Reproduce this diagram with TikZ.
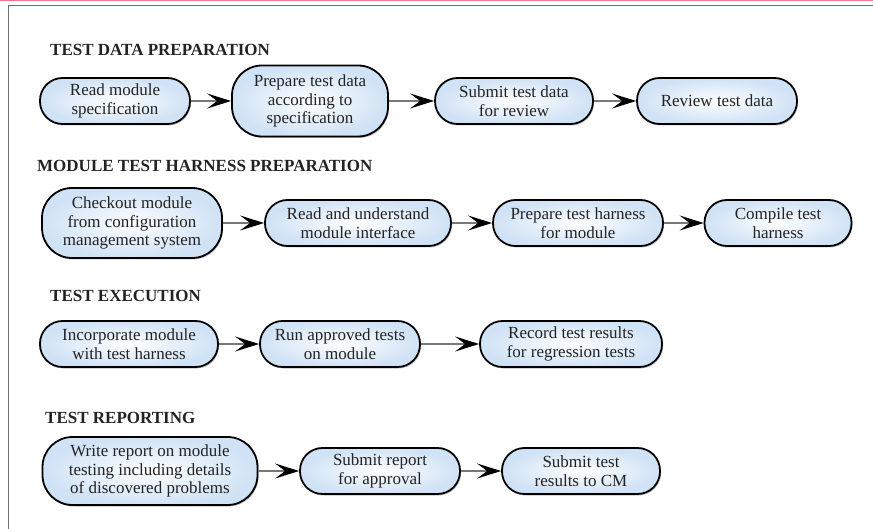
\documentclass[tikz,border=0pt]{standalone}
\usepackage{fontspec}
\setmainfont{LiberationSerif}[Extension=.ttf, UprightFont=*-Regular, BoldFont=*-Bold, ItalicFont=*-Italic, BoldItalicFont=*-BoldItalic]
\usetikzlibrary{arrows.meta,shadows}
\definecolor{boxedge}{RGB}{208,226,245}
\definecolor{boxcore}{RGB}{253,254,255}
\definecolor{linkgray}{RGB}{120,120,120}
\definecolor{framegray}{RGB}{110,110,110}
\definecolor{topband}{RGB}{240,120,140}
\definecolor{inktext}{RGB}{35,35,35}

\begin{document}
\begin{tikzpicture}[x=1pt,y=-1pt,
  stage/.style={font=\fontsize{17}{20}\selectfont\bfseries, text=inktext, anchor=base west, inner sep=0pt},
  proc/.style={draw=black, line width=1.8pt, inner sep=0pt, align=center, text=inktext,
     font=\fontsize{17}{18.5}\selectfont, inner color=boxcore, outer color=boxedge,
     drop shadow={shadow xshift=1pt, shadow yshift=-1.5pt, opacity=0.25, fill=black}},
  twoline/.style={proc, minimum height=46pt, rounded corners=22.5pt},
  threeline/.style={proc, minimum height=70pt, rounded corners=30pt},
  flow/.style={draw=linkgray, line width=1.4pt,
     -{Stealth[length=24pt,width=15pt,inset=10pt,color=black]}}
]
\useasboundingbox (0,0) rectangle (873,529);

% page frame
\draw[topband, line width=1.2pt] (0,0.6) -- (873,0.6);
\draw[framegray, line width=1pt] (873,5.5) -- (8.5,5.5) -- (8.5,529);

% test data preparation
\node[stage] (t1) at (50,56) {TEST DATA PREPARATION};
\node[twoline, minimum width=150pt] (a1) at (115,101) {Read module\\specification};
\node[threeline, minimum width=156pt, minimum height=71pt] (a2) at (310,101) {Prepare test data\\according to\\specification};
\node[twoline, minimum width=158pt] (a3) at (514,101) {Submit test data\\for review};
\node[twoline, minimum width=160pt] (a4) at (717,101) {Review test data};
\draw[flow] (a1) -- (a2);
\draw[flow] (a2) -- (a3);
\draw[flow] (a3) -- (a4);

% module test harness preparation
\node[stage] (t2) at (37,172) {MODULE TEST HARNESS PREPARATION};
\node[threeline, minimum width=180pt] (b1) at (132,223) {Checkout module\\from configuration\\management system};
\node[twoline, minimum width=186pt] (b2) at (358,223) {Read and understand\\module interface};
\node[twoline, minimum width=170pt] (b3) at (578,223) {Prepare test harness\\for module};
\node[twoline, minimum width=147pt] (b4) at (778,223) {Compile test\\harness};
\draw[flow] (b1) -- (b2);
\draw[flow] (b2) -- (b3);
\draw[flow] (b3) -- (b4);

% test execution
\node[stage] (t3) at (50,302) {TEST EXECUTION};
\node[twoline, minimum width=178pt] (c1) at (129,344) {Incorporate module\\with test harness};
\node[twoline, minimum width=160pt] (c2) at (340,344) {Run approved tests\\on module};
\node[twoline, minimum width=182pt] (c3) at (571,344) {Record test results\\for regression tests};
\draw[flow] (c1) -- (c2);
\draw[flow] (c2) -- (c3);

% test reporting
\node[stage] (t4) at (45,423) {TEST REPORTING};
\node[threeline, minimum width=215pt, minimum height=68pt] (d1) at (150,471) {Write report on module\\testing including details\\of discovered problems};
\node[twoline, minimum width=160pt] (d2) at (380,471) {Submit report\\for approval};
\node[twoline, minimum width=158pt] (d3) at (581,471) {Submit test\\results to CM};
\draw[flow] (d1) -- (d2);
\draw[flow] (d2) -- (d3);
\end{tikzpicture}
\end{document}
